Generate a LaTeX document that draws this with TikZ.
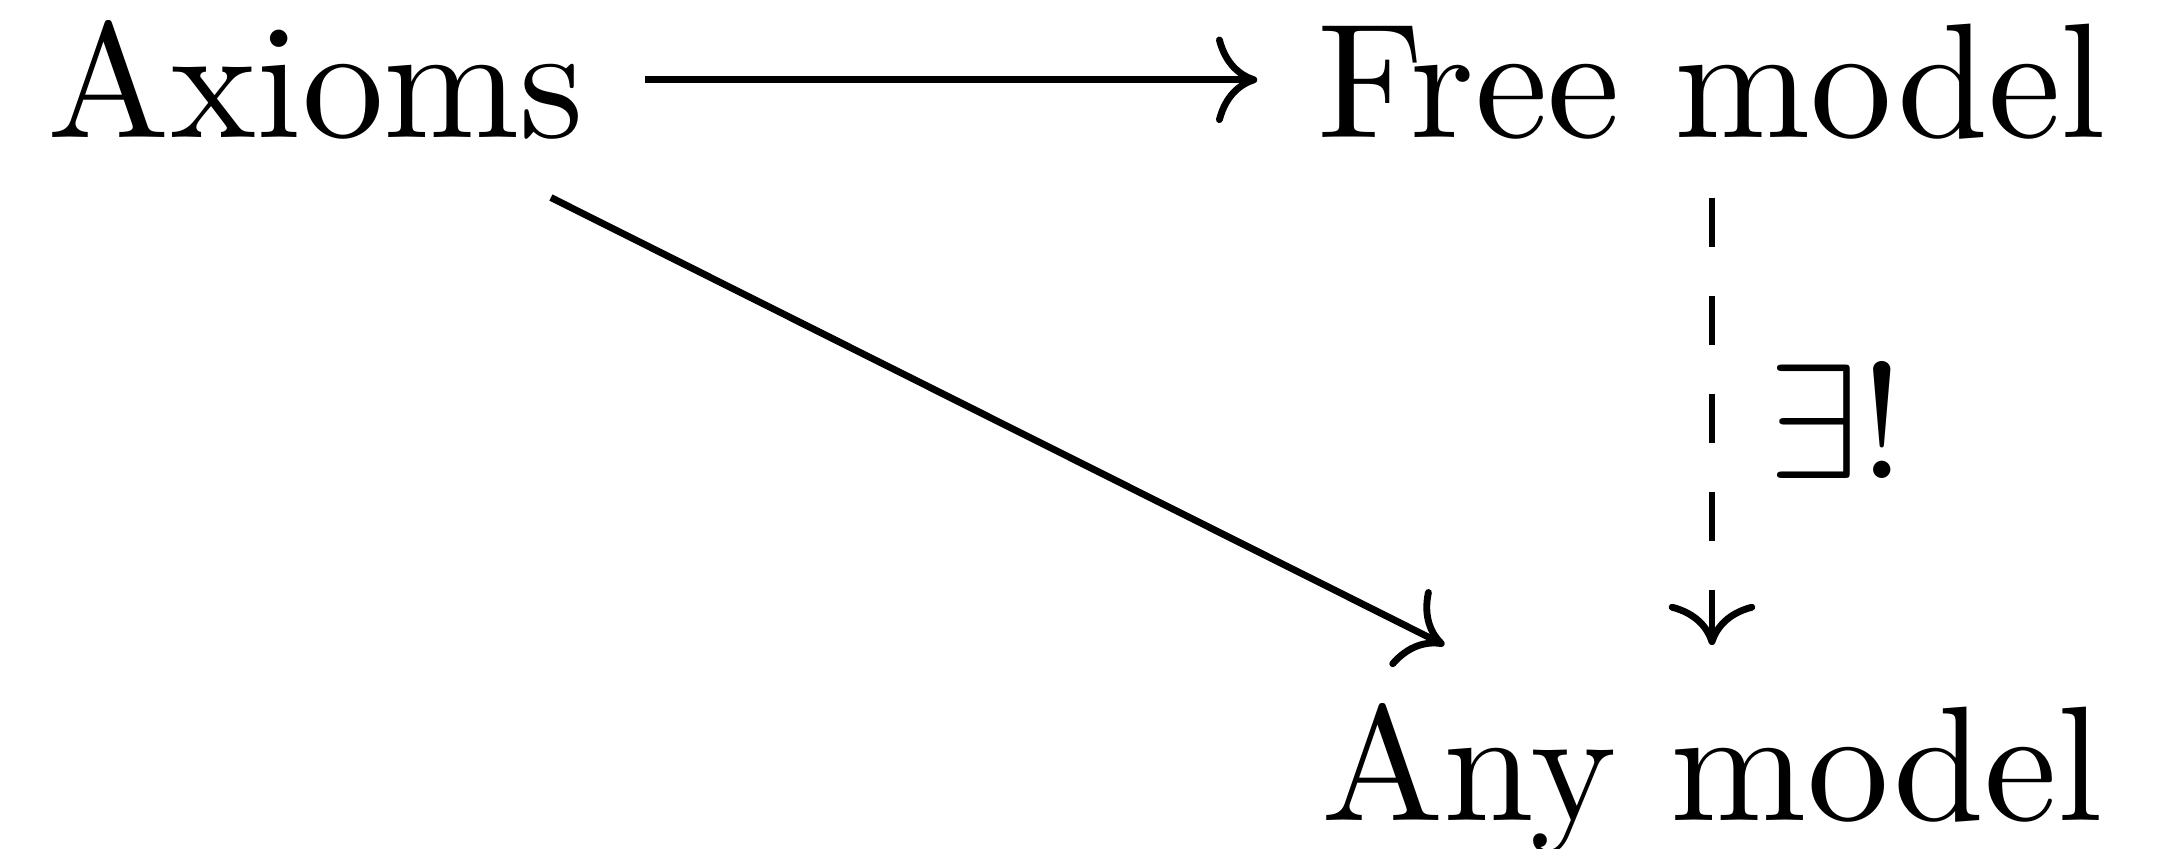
\documentclass[tikz,border=0pt]{standalone}
\usetikzlibrary{arrows.meta}
\begin{document}
\begin{tikzpicture}[x=0.061162pt,y=-0.061162pt,
  obj/.style={inner sep=3.5pt, anchor=base, text height=7pt, text depth=0pt},
  mor/.style={line width=0.42pt, -{Computer Modern Rightarrow}},
  dmor/.style={mor, dash pattern=on 3pt off 3pt},
  lab/.style={inner sep=0pt}]
\useasboundingbox (0,0) rectangle (2161,848);
\node[obj] (axioms) at (316,137) {Axioms};
\node[obj] (free) at (1712,137) {Free model};
\node[obj, text depth=2pt] (any) at (1712,820) {Any model};
\draw[mor] (axioms) -- (free);
\draw[mor] (axioms) -- (any);
\draw[dmor] (free) -- node[lab, midway, xshift=7.65pt] (lbl) {$\exists!$} (any);
\end{tikzpicture}
\end{document}
